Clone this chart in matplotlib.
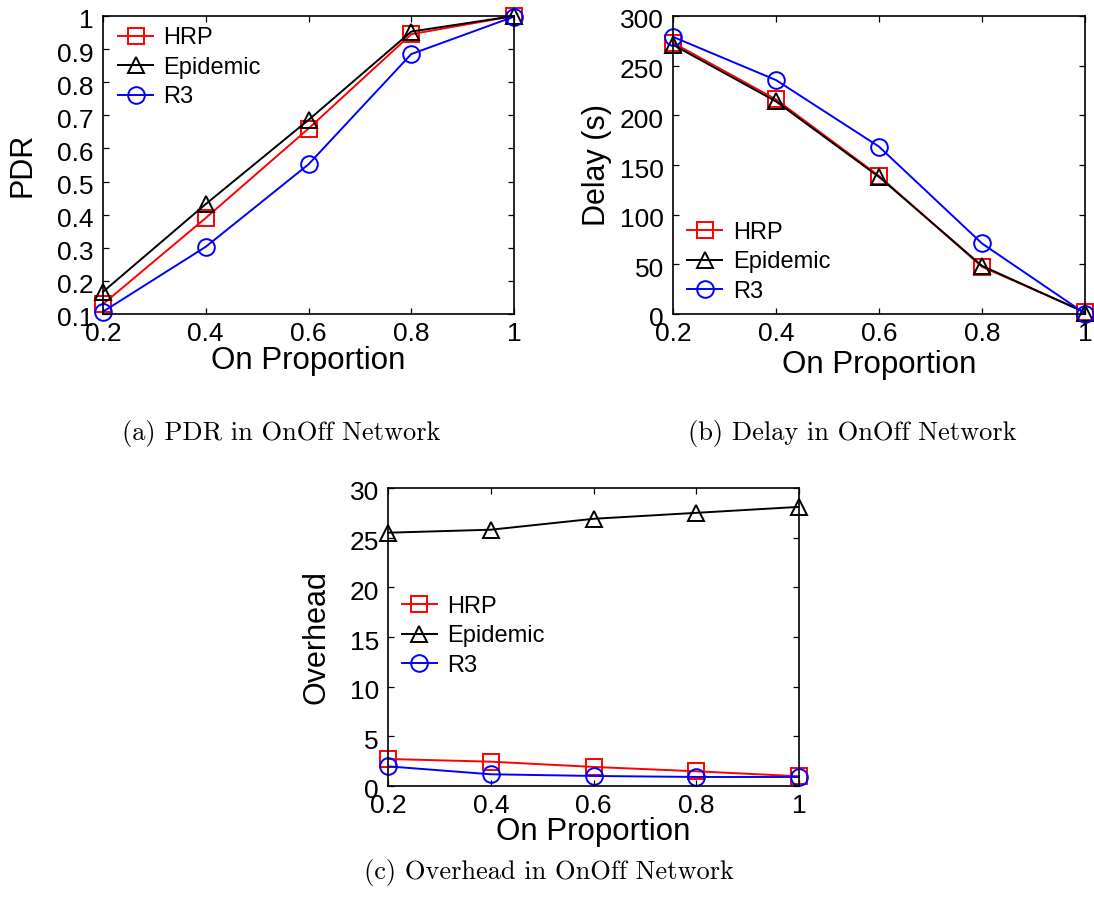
"""OnOff network comparison: PDR, delay and overhead of HRP, Epidemic and R3."""

import matplotlib
matplotlib.use("Agg")
import matplotlib.pyplot as plt
from matplotlib.transforms import ScaledTranslation

W, H = 1094, 915

ON_PROPORTION = [0.2, 0.4, 0.6, 0.8, 1.0]
X_TICK_LABELS = ["0.2", "0.4", "0.6", "0.8", "1"]

PDR_HRP = [0.13, 0.39, 0.66, 0.945, 1.0]
PDR_EPIDEMIC = [0.167, 0.432, 0.686, 0.953, 1.0]
PDR_R3 = [0.107, 0.303, 0.552, 0.885, 0.998]

DELAY_HRP = [273, 216, 139, 47.5, 2]
DELAY_EPIDEMIC = [271, 214, 138, 48.5, 1.5]
DELAY_R3 = [279, 235.5, 168.5, 71, 0.5]

OVERHEAD_HRP = [2.72, 2.45, 1.92, 1.48, 0.98]
OVERHEAD_EPIDEMIC = [25.5, 25.8, 26.9, 27.5, 28.1]
OVERHEAD_R3 = [1.98, 1.18, 1.01, 0.91, 0.91]

SANS = "Liberation Sans"
SERIF = "cmr10"

STYLES = [
    ("HRP", "red", "s", 11),
    ("Epidemic", "black", "^", 11),
    ("R3", "blue", "o", 12),
]


def axes_at(fig, left, top, right, bottom):
    """Add axes given pixel edges measured from the top-left corner."""
    return fig.add_axes([left / W, (H - bottom) / H, (right - left) / W, (bottom - top) / H])


def draw_panel(fig, ax, series, ylabel, ylim, yticks, ytick_labels, legend_anchor,
               xlabel_y, ylabel_x):
    for (name, color, marker, size), values in zip(STYLES, series):
        ax.plot(ON_PROPORTION, values, color=color, marker=marker, markersize=size,
                markerfacecolor="none", markeredgewidth=1.4, linewidth=1.4,
                label=name, clip_on=False)
    ax.set_xlim(0.2, 1.0)
    ax.set_ylim(*ylim)
    ax.set_xticks(ON_PROPORTION)
    ax.set_xticklabels(X_TICK_LABELS)
    ax.set_yticks(yticks)
    ax.set_yticklabels(ytick_labels)
    ax.tick_params(direction="in", length=4, width=0.9, top=True, right=True,
                   labelsize=19)
    ax.tick_params(axis="x", pad=6)
    ax.tick_params(axis="y", pad=6.5)
    for label in ax.get_xticklabels() + ax.get_yticklabels():
        label.set_fontfamily(SANS)
    # y tick labels sit a little below their ticks
    shift = ScaledTranslation(0, -3 / 100, fig.dpi_scale_trans)
    for tick in ax.yaxis.get_major_ticks():
        tick.label1.set_transform(tick.label1.get_transform() + shift)
    for spine in ax.spines.values():
        spine.set_linewidth(1.2)

    ax.set_xlabel("On Proportion", fontsize=22.5, family=SANS, va="center")
    ax.xaxis.set_label_coords(0.5, xlabel_y)
    ax.set_ylabel(ylabel, fontsize=22, family=SANS, va="center")
    ax.yaxis.set_label_coords(ylabel_x, 0.5)

    ax.legend(loc="center left", bbox_to_anchor=legend_anchor, frameon=False,
              borderpad=0, borderaxespad=0, handlelength=1.5, handletextpad=0.44,
              labelspacing=0.32, prop={"family": SANS, "size": 17})


fig = plt.figure(figsize=(W / 100, H / 100), dpi=100)

ax_a = axes_at(fig, 103, 16, 514, 314)
draw_panel(fig, ax_a, [PDR_HRP, PDR_EPIDEMIC, PDR_R3], "PDR", (0.1, 1.0),
           [0.1 * i for i in range(1, 11)],
           ["0.1", "0.2", "0.3", "0.4", "0.5", "0.6", "0.7", "0.8", "0.9", "1"],
           (0.036, 0.827), -0.157, -0.196)

ax_b = axes_at(fig, 673, 16, 1085, 314)
draw_panel(fig, ax_b, [DELAY_HRP, DELAY_EPIDEMIC, DELAY_R3], "Delay (s)", (0, 300),
           list(range(0, 301, 50)), [str(v) for v in range(0, 301, 50)],
           (0.034, 0.174), -0.171, -0.185)

ax_c = axes_at(fig, 388, 488, 799, 786)
draw_panel(fig, ax_c, [OVERHEAD_HRP, OVERHEAD_EPIDEMIC, OVERHEAD_R3], "Overhead", (0, 30),
           list(range(0, 31, 5)), [str(v) for v in range(0, 31, 5)],
           (0.033, 0.503), -0.154, -0.175)

fig.text(281 / W, 1 - 433 / H, "(a) PDR in OnOff Network", family=SERIF,
         fontsize=19, ha="center", va="center")
fig.text(852 / W, 1 - 433 / H, "(b) Delay in OnOff Network", family=SERIF,
         fontsize=19, ha="center", va="center")
fig.text(549 / W, 1 - 872 / H, "(c) Overhead in OnOff Network", family=SERIF,
         fontsize=19, ha="center", va="center")

fig.savefig("out.png", dpi=100)
